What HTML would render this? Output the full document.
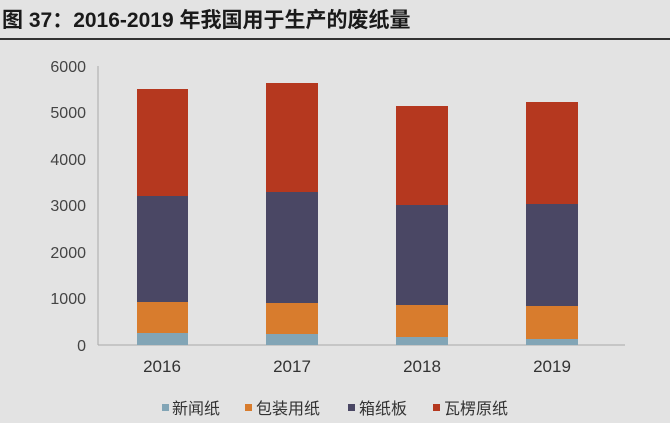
<!DOCTYPE html>
<html><head><meta charset="utf-8"><style>
body{margin:0;background:#e4e4e4;width:670px;height:423px;overflow:hidden;font-family:"Liberation Sans","Noto Sans CJK SC",sans-serif}
</style></head><body>
<svg width="670" height="423" xmlns="http://www.w3.org/2000/svg" style="position:absolute;left:0;top:0">
<rect width="670" height="423" fill="#e3e3e3"/>
<text x="2" y="27" font-size="21" font-weight="bold" fill="#1a1a1a" font-family="Liberation Sans,Noto Sans CJK SC,sans-serif">图 37：2016-2019 年我国用于生产的废纸量</text>
<line x1="0" y1="39" x2="670" y2="39" stroke="#333" stroke-width="2"/>
<g font-size="16" fill="#444" text-anchor="end" font-family="Liberation Sans,sans-serif">
<text x="86" y="72">6000</text><text x="86" y="118">5000</text><text x="86" y="165">4000</text>
<text x="86" y="211">3000</text><text x="86" y="258">2000</text><text x="86" y="304">1000</text><text x="86" y="351">0</text>
</g>
<line x1="98" y1="66" x2="98" y2="345" stroke="#aaa"/>
<line x1="98" y1="345" x2="625" y2="345" stroke="#aaa"/>
<g>
<rect x="137" y="89" width="51" height="107" fill="#b5381f"/><rect x="137" y="196" width="51" height="106" fill="#4a4764"/><rect x="137" y="302" width="51" height="31" fill="#d87c2d"/><rect x="137" y="333" width="51" height="12" fill="#82a5b6"/>
<rect x="266" y="83" width="52" height="109" fill="#b5381f"/><rect x="266" y="192" width="52" height="111" fill="#4a4764"/><rect x="266" y="303" width="52" height="31" fill="#d87c2d"/><rect x="266" y="334" width="52" height="11" fill="#82a5b6"/>
<rect x="396" y="106" width="52" height="99" fill="#b5381f"/><rect x="396" y="205" width="52" height="100" fill="#4a4764"/><rect x="396" y="305" width="52" height="32" fill="#d87c2d"/><rect x="396" y="337" width="52" height="8" fill="#82a5b6"/>
<rect x="526" y="102" width="52" height="102" fill="#b5381f"/><rect x="526" y="204" width="52" height="102" fill="#4a4764"/><rect x="526" y="306" width="52" height="33" fill="#d87c2d"/><rect x="526" y="339" width="52" height="6" fill="#82a5b6"/>
</g>
<g font-size="17" fill="#333" text-anchor="middle" font-family="Liberation Sans,sans-serif">
<text x="162" y="372">2016</text><text x="292" y="372">2017</text><text x="422" y="372">2018</text><text x="552" y="372">2019</text>
</g>
<g font-size="16" fill="#333" font-family="Liberation Sans,Noto Sans CJK SC,sans-serif">
<rect x="162" y="404" width="7" height="7" fill="#82a5b6"/><text x="172" y="414">新闻纸</text>
<rect x="245" y="404" width="7" height="7" fill="#d87c2d"/><text x="256" y="414">包装用纸</text>
<rect x="348" y="404" width="7" height="7" fill="#4a4764"/><text x="359" y="414">箱纸板</text>
<rect x="433" y="404" width="7" height="7" fill="#b5381f"/><text x="444" y="414">瓦楞原纸</text>
</g>
</svg>
</body></html>
